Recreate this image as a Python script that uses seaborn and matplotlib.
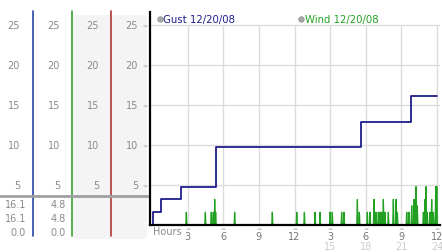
import numpy as np
import pandas as pd
import matplotlib
matplotlib.use("Agg")
import matplotlib.pyplot as plt
import seaborn as sns

# ---------------- data ----------------
gust_hours = [0.0, 0.1, 0.75, 2.4, 5.4, 17.6, 21.8, 24.0]
gust_values = [0.0, 1.6, 3.2, 4.8, 9.7, 12.9, 16.1, 16.1]

wind_spike_hours = [2.89, 4.49, 4.99, 5.16, 5.28, 5.36, 6.96, 10.13, 12.19, 12.83,
                    13.73, 14.15, 14.99, 15.18, 15.97, 16.17, 17.29, 17.46, 18.13,
                    18.36, 18.69, 18.86, 19.06, 19.2, 19.34, 19.48, 19.62, 19.9,
                    20.32, 20.55, 20.66, 21.45, 21.64, 21.87, 22.06, 22.23, 22.34,
                    22.85, 22.99, 23.07, 23.18, 23.41, 23.55, 23.69, 23.89, 23.98]
wind_spike_values = [1.6, 1.6, 1.6, 1.6, 3.2, 1.6, 1.6, 1.6, 1.6, 1.6,
                     1.6, 1.6, 1.6, 1.6, 1.6, 1.6, 3.2, 1.6, 1.6,
                     1.6, 3.2, 1.6, 1.6, 1.6, 1.6, 3.2, 1.6, 1.6,
                     3.2, 3.2, 1.6, 1.6, 1.6, 2.4, 3.2, 4.8, 2.4,
                     1.6, 3.2, 4.8, 1.6, 1.6, 3.2, 1.6, 4.8, 4.8]

scale_ticks = [5, 10, 15, 20, 25]
hour_ticks = [3, 6, 9, 12, 15, 18, 21, 24]
hour_labels = ["3", "6", "9", "12", "3", "6", "9", "12"]
hour_labels2 = {15: "15", 18: "18", 21: "21", 24: "24"}
gust_stats = ["16.1", "16.1", "0.0"]
wind_stats = ["4.8", "4.8", "0.0"]
legend_labels = ["Gust 12/20/08", "Wind 12/20/08"]

# ---------------- style ----------------
sns.set_style("white")
plt.rcParams["font.family"] = ["DejaVu Sans"]

GUST = "#1c1c8c"
WIND = "#22a022"
GRID = "#dcdcdc"
LBL = "#8a8a8a"

W, H = 442, 253
fig = plt.figure(figsize=(W / 100, H / 100), dpi=100)


def rect(l, t, r, b):
    return [l / W, 1 - b / H, (r - l) / W, (b - t) / H]


# ---------------- left scale panel ----------------
axl = fig.add_axes([0, 0, 150 / W, 1])
axl.set_xlim(0, 150)
axl.set_ylim(-3.375, 28.25)
axl.axis("off")
for x0, x1 in [(73, 111), (112, 147)]:
    axl.fill_between([x0, x1], -1.75, 26.25, color="#f4f4f4", lw=0, zorder=0)
for x, c in [(33.3, "#2a45a5"), (72.3, "#35a535"), (111.3, "#b03535")]:
    axl.plot([x, x], [-1.4, 26.75], color=c, lw=1.2, zorder=2)
axl.plot([0, 150], [3.625, 3.625], color="#a0a0a0", lw=2, zorder=3)
for v in scale_ticks:
    for xr in [20, 60, 99, 138]:
        axl.text(xr, v, str(v), ha="right", va="center", fontsize=7, color=LBL)
    axl.text(145, v, "≈", ha="center", va="center", fontsize=4.5, color="#aaaaaa")
for i, y in enumerate([2.625, 0.875, -0.875]):
    axl.text(26, y, gust_stats[i], ha="right", va="center", fontsize=7, color=LBL)
    axl.text(66, y, wind_stats[i], ha="right", va="center", fontsize=7, color=LBL)

# ---------------- main chart ----------------
ax = fig.add_axes(rect(150, 13, 440, 226))
ax.set_xlim(-0.17, 24.25)
ax.set_ylim(0, 26.625)
ax.patch.set_alpha(0)

ax.vlines(hour_ticks, 0, 25, color=GRID, lw=1, zorder=0)
for v in scale_ticks:
    ax.plot([-0.17, 24.25], [v, v], color=GRID, lw=1, zorder=0)

# wind series built from spikes
wx, wy = [0.0], [0.0]
for h, v in zip(wind_spike_hours, wind_spike_values):
    wx += [h - 0.05, h, h + 0.05]
    wy += [0.0, v, 0.0]
wx.append(24.0)
wy.append(0.0)
wind_df = pd.DataFrame({"hour": wx, "value": wy})
sns.lineplot(data=wind_df, x="hour", y="value", ax=ax, color=WIND, lw=0.9,
             estimator=None, sort=False, zorder=2)

gust_df = pd.DataFrame({"hour": gust_hours, "value": gust_values})
sns.lineplot(data=gust_df, x="hour", y="value", ax=ax, color=GUST, lw=1.3,
             drawstyle="steps-post", estimator=None, zorder=3)

for s in ["top", "right"]:
    ax.spines[s].set_visible(False)
ax.spines["left"].set_color("black")
ax.spines["left"].set_linewidth(1.6)
ax.spines["bottom"].set_color("black")
ax.spines["bottom"].set_linewidth(1.6)
ax.spines["bottom"].set_zorder(4)
ax.set_xticks([])
ax.set_yticks([])
ax.set_xlabel("")
ax.set_ylabel("")

# legend
for xc, xt, lab, col in [(0.67, 0.93, legend_labels[0], GUST),
                         (12.55, 12.88, legend_labels[1], WIND)]:
    ax.plot([xc], [25.75], "o", ms=4, color="#a8a8a8", mec="#909090", mew=0.5,
            clip_on=False)
    ax.text(xt, 25.75, lab, ha="left", va="center", fontsize=7.3, color=col)

# x labels
tr = ax.get_xaxis_transform()
ax.text(0.05, -0.03, "Hours", transform=tr, ha="left", va="center",
        fontsize=7, color=LBL)
for h, lab in zip(hour_ticks, hour_labels):
    ax.text(h, -0.014, "≈", transform=tr, ha="center", va="center",
            fontsize=4.5, color="#aaaaaa")
    ax.text(h, -0.052, lab, transform=tr, ha="center", va="center",
            fontsize=7, color="#777777")
    if h in hour_labels2:
        ax.text(h, -0.099, hour_labels2[h], transform=tr, ha="center",
                va="center", fontsize=7, color="#cccccc")

fig.savefig("out.png", dpi=100)
